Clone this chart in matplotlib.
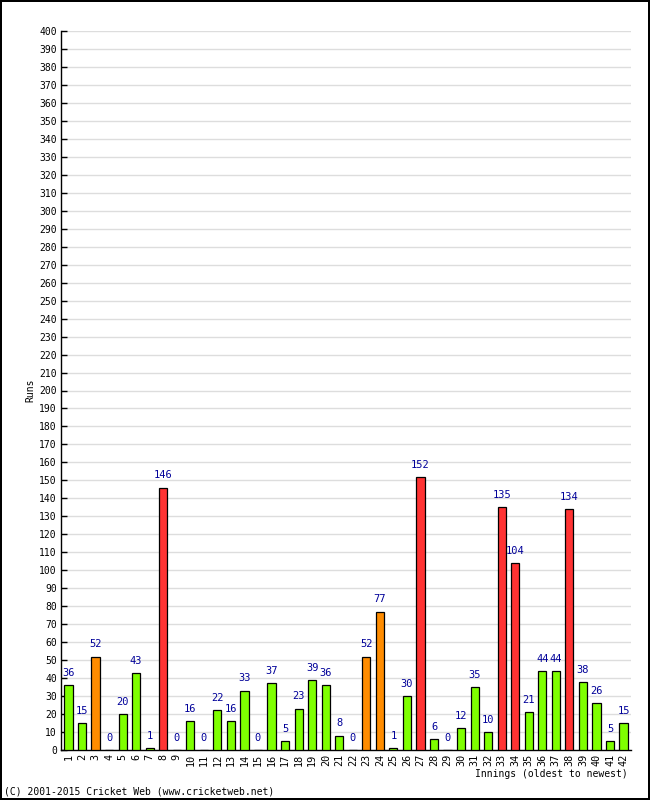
import matplotlib
matplotlib.use("Agg")
import matplotlib.pyplot as plt
import numpy as np

# innings scores, oldest to newest
innings = list(range(1, 43))
runs = [36, 15, 52, 0, 20, 43, 1, 146, 0, 16, 0, 22, 16, 33, 0, 37, 5, 23, 39, 36,
        8, 0, 52, 77, 1, 30, 152, 6, 0, 12, 35, 10, 135, 104, 21, 44, 44, 134, 38, 26,
        5, 15]
y_ticks = list(range(0, 401, 10))

plt.rcParams['font.family'] = ['DejaVu Sans Mono']

fig = plt.figure(figsize=(6.5, 8), dpi=100)
fig.patch.set_facecolor('white')
fig.patch.set_edgecolor('black')
fig.patch.set_linewidth(1.5)

ax = fig.add_axes([61/650, 50/800, 570/650, 719/800])

cols = []
for r in runs:
    if r >= 100:
        cols.append('#ff3333')
    elif r >= 50:
        cols.append('#ff8c00')
    else:
        cols.append('#7fff00')

x = np.arange(len(innings))
ax.bar(x, runs, width=0.6, color=cols, edgecolor='black', linewidth=0.9, zorder=3)

# value labels above each bar
for xi, r in zip(x, runs):
    ax.text(xi, r + 4, str(r), ha='center', va='bottom', fontsize=7.5, color='#000099')

ax.set_xlim(-0.55, len(innings) - 0.45)
ax.set_ylim(0, 400)
ax.set_yticks(y_ticks)
ax.set_yticklabels([str(v) for v in y_ticks], fontsize=7)
ax.set_xticks(x)
ax.set_xticklabels([str(i) for i in innings], rotation=90, fontsize=7.3)
ax.tick_params(axis='y', direction='in', length=4, width=1, pad=3)
ax.tick_params(axis='x', length=0, pad=3)
ax.yaxis.grid(True, color='#dddddd', linewidth=1, zorder=0)
ax.set_axisbelow(True)
for s in ['top', 'right']:
    ax.spines[s].set_visible(False)
ax.spines['left'].set_linewidth(1)
ax.spines['bottom'].set_linewidth(1)

fig.text(30/650, 1 - 390/800, 'Runs', rotation=90, ha='center', va='center', fontsize=7)
fig.text(628/650, 1 - 774/800, 'Innings (oldest to newest)', ha='right', va='center', fontsize=7)
fig.text(4/650, 1 - 792/800, '(C) 2001-2015 Cricket Web (www.cricketweb.net)', ha='left', va='center', fontsize=7)

fig.savefig('out.png', dpi=100, facecolor=fig.get_facecolor(), edgecolor=fig.get_edgecolor())
